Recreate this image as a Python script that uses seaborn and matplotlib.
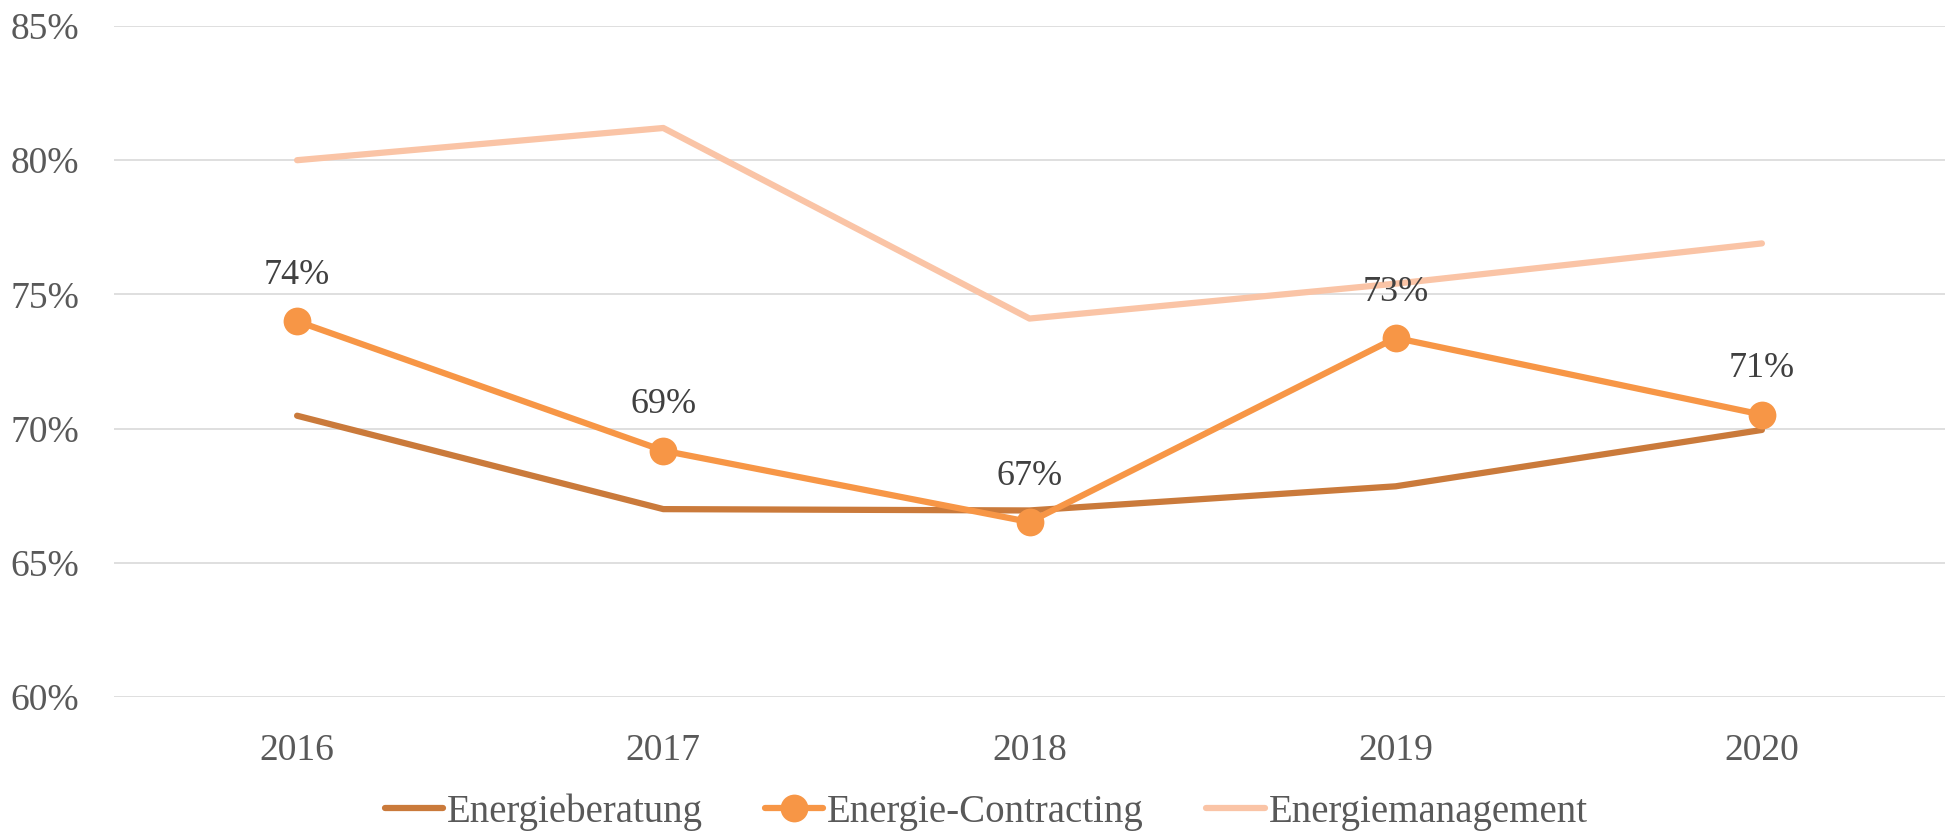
import numpy as np
import pandas as pd
import matplotlib
matplotlib.use("Agg")
import matplotlib.pyplot as plt
import seaborn as sns

years = ["2016", "2017", "2018", "2019", "2020"]
beratung = [70.48, 67.0, 66.95, 67.85, 69.95]
contracting = [74.0, 69.18, 66.52, 73.38, 70.52]
management = [80.0, 81.2, 74.1, 75.4, 76.9]

series_names = ["Energieberatung", "Energie-Contracting", "Energiemanagement"]
colors = ["#CA7A3B", "#F79646", "#FAC4A6"]

sns.set_theme(style="white")
plt.rcParams["font.family"] = ["Liberation Serif", "DejaVu Serif"]

fig = plt.figure(figsize=(19.45, 8.32), dpi=100)
ax = fig.add_axes([114 / 1945, 1 - 697 / 832, 1 - 114 / 1945, (697 - 26) / 832])

df = pd.DataFrame({"Jahr": years, "beratung": beratung,
                   "contracting": contracting, "management": management})

sns.lineplot(data=df, x="Jahr", y="beratung", ax=ax, color=colors[0],
             linewidth=4.5, label=series_names[0], solid_capstyle="round", sort=False)
sns.lineplot(data=df, x="Jahr", y="contracting", ax=ax, color=colors[1],
             linewidth=4.5, marker="o", markersize=20, markeredgewidth=0,
             label=series_names[1], solid_capstyle="round", sort=False)
sns.lineplot(data=df, x="Jahr", y="management", ax=ax, color=colors[2],
             linewidth=4.5, label=series_names[2], solid_capstyle="round", sort=False)

# data labels for contracting
for i, v in enumerate(contracting):
    ax.annotate(f"{v:.0f}%", (i, v), xytext=(0, 21), textcoords="offset points",
                ha="center", va="bottom", fontsize=26, color="#404040")

ax.set_ylim(60, 85)
ax.set_xlim(-0.5, 4.5)
ax.set_yticks([60, 65, 70, 75, 80, 85])
ax.set_yticklabels([f"{t}%" for t in [60, 65, 70, 75, 80, 85]])
ax.grid(axis="y", color="#D9D9D9", linewidth=1.2)
ax.set_axisbelow(True)
for s in ax.spines.values():
    s.set_visible(False)
ax.tick_params(axis="y", length=0, pad=25, labelsize=27, labelcolor="#595959")
ax.tick_params(axis="x", length=0, pad=26, labelsize=27, labelcolor="#595959")
ax.set_xlabel("")
ax.set_ylabel("")

handles, labels = ax.get_legend_handles_labels()
ax.get_legend().remove()
fig.legend(handles, labels, loc="center", bbox_to_anchor=(986 / 1945, 1 - 812 / 832),
           ncol=3, frameon=False, fontsize=28, handlelength=1.5, handletextpad=0.1,
           columnspacing=1.6, labelcolor="#595959", borderaxespad=0, borderpad=0)

fig.savefig("out.png", dpi=100)
